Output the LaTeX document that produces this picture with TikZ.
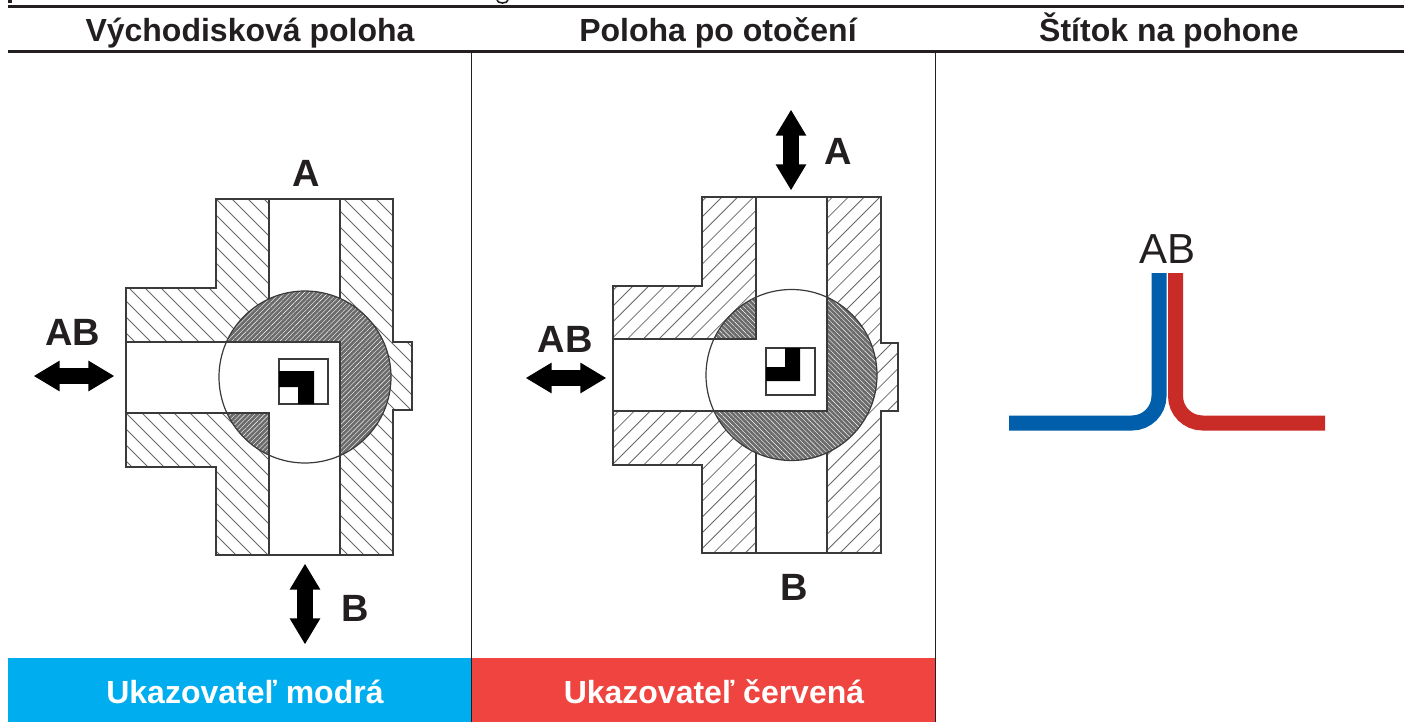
\documentclass[tikz,border=0pt]{standalone}
\usepackage{fontspec}
\setmainfont{Liberation Sans}
\usetikzlibrary{patterns.meta,shapes.arrows}
\definecolor{ink}{HTML}{231F20}
\definecolor{barblue}{HTML}{00AEEF}
\definecolor{barred}{HTML}{EF4440}
\definecolor{tubeblue}{HTML}{005EAB}
\definecolor{tubered}{HTML}{C92B27}
\definecolor{edgegrey}{HTML}{3A3A3A}

\begin{document}
\begin{tikzpicture}[x=0.5pt,y=-0.5pt]
    \tikzset{%
      head/.style={font=\bfseries\fontsize{16}{18}\selectfont, text=ink, inner sep=0pt, anchor=base},
      bar/.style={font=\bfseries\fontsize{16}{18}\selectfont, text=white, inner sep=0pt, anchor=base},
      port/.style={font=\bfseries\fontsize{19}{22}\selectfont, text=ink, inner sep=0pt},
      flow/.style={double arrow, fill=black, inner xsep=0pt, inner ysep=3.75pt, outer sep=0pt,
        minimum height=40pt, double arrow head extend=3.75pt, double arrow tip angle=62},
      rule/.style={line width=1.5pt, ink},
      sep/.style={line width=0.5pt, ink},
      wall/.style={draw=edgegrey, line width=0.7pt},
      hatch/.style={line width=0.4pt, black!60},
      balldown/.style={preaction={fill=black!58}, pattern={Lines[angle=-45,distance=1.7pt,line width=0.2pt]}, pattern color=white},
      ballup/.style={preaction={fill=black!58}, pattern={Lines[angle=45,distance=1.7pt,line width=0.2pt]}, pattern color=white},
      tube/.style={line width=7.5pt, rounded corners=13.5pt},
    }
    \useasboundingbox (0,0) rectangle (1408,722);
    % table
    \fill [barblue] (8,658) rectangle (472,722);
    \fill [barred] (472,658) rectangle (936,722);
    \coordinate (R1a) at (8,7);
    \coordinate (R1b) at (1404,7);
    \coordinate (R2a) at (8,52);
    \coordinate (R2b) at (1404,52);
    \draw [rule] (R1a) -- (R1b);
    \draw [rule] (R2a) -- (R2b);
    \coordinate (S1a) at (471.5,52);
    \coordinate (S1b) at (471.5,722);
    \coordinate (S2a) at (935.5,52);
    \coordinate (S2b) at (935.5,722);
    \draw [sep] (S1a) -- (S1b);
    \draw [sep] (S2a) -- (S2b);
    \fill [ink] (8,0) rectangle (12,3);
    \draw [ink, line width=0.8pt] (508,0) arc (180:0:-5.5 and 3);
    \node[head] (H1) at (250,42) {Východisková poloha};
    \node[head] (H2) at (718,42) {Poloha po otočení};
    \node[head] (H3) at (1169,42) {Štítok na pohone};
    \node[bar] (U1) at (245,703) {Ukazovateľ modrá};
    \node[bar] (U2) at (714,703) {Ukazovateľ červená};

    % start position
    \begin{scope}
      \clip (216,199) -- (393,199) -- (393,342) -- (412,342) -- (412,410) -- (393,410)
        -- (393,555) -- (216,555) -- (216,467) -- (126,467) -- (126,288) -- (216,288) -- cycle;
      \foreach \k in {-24,...,11}
        \draw [hatch] ({33+16*\k+150},150) -- ({33+16*\k+600},600);
    \end{scope}
    \fill [white] (269,199) rectangle (340,555);
    \fill [white] (126,342) rectangle (340,413);
    \draw [wall] (216,199) -- (393,199) -- (393,342) -- (412,342) -- (412,410) -- (393,410)
      -- (393,555) -- (216,555) -- (216,467) -- (126,467) -- (126,288) -- (216,288) -- cycle;
    \draw [wall] (269,199) -- (269,342) -- (126,342);
    \draw [wall] (340,199) -- (340,555);
    \draw [wall] (269,555) -- (269,413) -- (126,413);
    \fill [white] (305,377) circle (86);
    \path [ballup] (305,377) circle (86);
    \begin{scope}
      \clip (305,377) circle (86);
      \fill [white] (126,342) -- (340,342) -- (340,470) -- (269,470) -- (269,413) -- (126,413) -- cycle;
      \draw [wall] (126,342) -- (340,342) -- (340,470);
      \draw [wall] (269,470) -- (269,413) -- (126,413);
    \end{scope}
    \draw [edgegrey, line width=0.6pt] (305,377) circle (86);
    \draw [wall, fill=white] (279,359) rectangle (328,404);
    \fill [black] (279,371) -- (314,371) -- (314,404) -- (298,404) -- (298,387) -- (279,387) -- cycle;
    \node[port] (A1) at (306,173) {A};
    \node[port] (B1) at (355,608) {B};
    \node[port] (AB1) at (73,332) {AB};
    \node[flow] (F1) at (74,376) {};
    \node[flow, rotate=90] (F2) at (305,604) {};

    % turned position
    \begin{scope}
      \clip (702,197) -- (881,197) -- (881,343) -- (898,343) -- (898,411) -- (881,411)
        -- (881,553) -- (702,553) -- (702,465) -- (613,465) -- (613,286) -- (702,286) -- cycle;
      \foreach \k in {-2,...,33}
        \draw [hatch] ({919+15.8*\k-150},150) -- ({919+15.8*\k-600},600);
    \end{scope}
    \fill [white] (756,197) rectangle (827,553);
    \fill [white] (613,339) rectangle (827,411);
    \draw [wall] (702,197) -- (881,197) -- (881,343) -- (898,343) -- (898,411) -- (881,411)
      -- (881,553) -- (702,553) -- (702,465) -- (613,465) -- (613,286) -- (702,286) -- cycle;
    \draw [wall] (756,197) -- (756,339) -- (613,339);
    \draw [wall] (827,197) -- (827,553);
    \draw [wall] (756,553) -- (756,411) -- (613,411);
    \fill [white] (791.5,375) circle (85.5);
    \path [balldown] (791.5,375) circle (85.5);
    \begin{scope}
      \clip (791.5,375) circle (85.5);
      \fill [white] (613,339) -- (756,339) -- (756,270) -- (827,270) -- (827,411) -- (613,411) -- cycle;
      \draw [wall] (613,339) -- (756,339) -- (756,270);
      \draw [wall] (827,270) -- (827,411) -- (613,411);
    \end{scope}
    \draw [edgegrey, line width=0.6pt] (791.5,375) circle (85.5);
    \draw [wall, fill=white] (766,348) rectangle (815,395);
    \fill [black] (785,348) -- (800,348) -- (800,381) -- (766,381) -- (766,367) -- (785,367) -- cycle;
    \node[port] (A2) at (838,151) {A};
    \node[port] (B2) at (794,587) {B};
    \node[port] (AB2) at (565,339) {AB};
    \node[flow] (F3) at (566,378) {};
    \node[flow, rotate=90] (F4) at (791,150) {};

    % label on the drive
    \coordinate (Tb0) at (1159,273);
    \coordinate (Tb1) at (1159,423);
    \coordinate (Tb2) at (1009,423);
    \coordinate (Tr0) at (1175.5,273);
    \coordinate (Tr1) at (1175.5,423);
    \coordinate (Tr2) at (1325,423);
    \draw [tube, tubeblue] (Tb0) -- (Tb1) -- (Tb2);
    \draw [tube, tubered] (Tr0) -- (Tr1) -- (Tr2);
    \node[font=\fontsize{21}{22}\selectfont, text=ink, inner sep=0pt] (AB3) at (1167,249) {AB};
\end{tikzpicture}
\end{document}
